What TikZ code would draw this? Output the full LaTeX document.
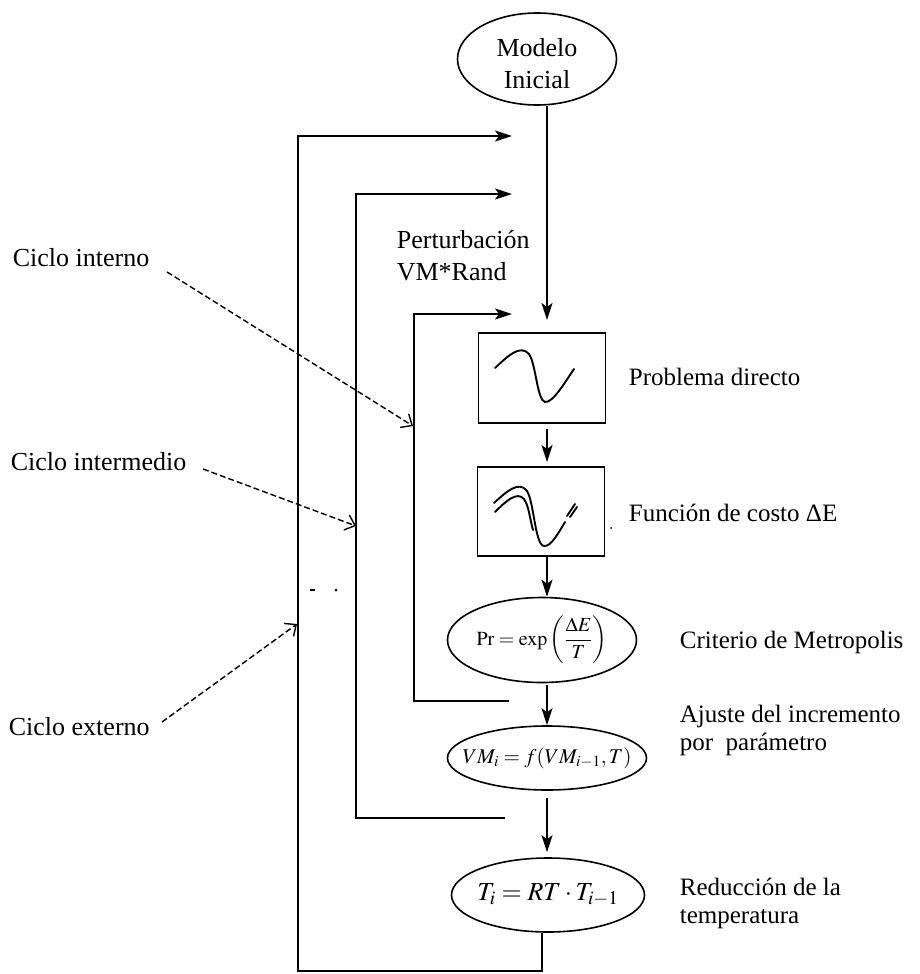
\documentclass[tikz,border=0pt]{standalone}
\usepackage{mathptmx}
\usepackage{fontspec}
\setmainfont{Liberation Serif}
\usetikzlibrary{arrows.meta,shapes.geometric}
\begin{document}
\begin{tikzpicture}[x=1pt,y=-1pt,
  line width=1.7pt,
  arr/.style={-{Stealth[length=17pt,width=11pt,inset=4pt]}},
  darr/.style={dash pattern=on 6pt off 3pt, line width=1.4pt, -{Straight Barb[length=9pt,width=16pt]}},
  ell/.style={draw, ellipse, inner sep=0pt, line width=1.6pt},
  boxnode/.style={draw, rectangle, inner sep=0pt, line width=1.9pt},
  curve/.style={line width=1.9pt, line cap=round},
  lbl/.style={font=\fontsize{26}{30}\selectfont, anchor=west, inner sep=0pt},
  rlbl/.style={font=\fontsize{25}{28}\selectfont, anchor=west, inner sep=0pt, align=left},
]
\useasboundingbox (0,0) rectangle (919,974);

% axis of the main chain
\coordinate (axis) at (547,0);

% nodes
\node[ell, minimum width=159pt, minimum height=92pt,
  label={[font=\fontsize{26}{32}\selectfont, align=center, yshift=-5pt]center:{Modelo\\Inicial}}] (modelo) at (537,59) {};
\node[boxnode, minimum width=127pt, minimum height=90pt] (box1) at (542,378) {};
\node[boxnode, minimum width=127pt, minimum height=89pt] (box2) at (541,511.5) {};
\node[ell, minimum width=189pt, minimum height=85pt,
  label={[font=\fontsize{20}{24}\selectfont]center:{$\mathrm{Pr}=\exp\left(\displaystyle\frac{\Delta E}{T}\right)$}}] (pr) at (542,640) {};
\node[ell, minimum width=199pt, minimum height=64pt,
  label={[font=\fontsize{21}{24}\selectfont]center:{$VM_{i}=f(VM_{i-1},T)$}}] (vm) at (547,758) {};
\node[ell, minimum width=193pt, minimum height=74pt,
  label={[font=\fontsize{26}{30}\selectfont]center:{$T_{i}=RT\cdot T_{i-1}$}}] (tt) at (548,895) {};

% curves inside boxes
\draw[curve] (495,368) .. controls (508,356) and (520,344) .. (529,354)
  .. controls (536,364) and (537,400) .. (545,402)
  .. controls (553,403) and (565,382) .. (574,369);
\draw[curve] (494,503) .. controls (506,492) and (519,480) .. (527,491)
  .. controls (534,502) and (535,545) .. (544,546)
  .. controls (551,547) and (559,532) .. (565,522);
\draw[curve] (495,512) .. controls (506,501) and (517,491) .. (524,499)
  .. controls (529,506) and (530,520) .. (533,530);
\draw[curve] (567,516) -- (575,504);
\draw[curve] (570,517) -- (577,507);
\fill (611,528) circle (1pt);

% labels right
\node[rlbl] (lprob) at (628,377) {Problema directo};
\node[rlbl] (lfunc) at (628,513) {Función de costo ΔE};
\node[rlbl] (lcrit) at (679,642) {Criterio de Metropolis};
\node[rlbl] (lajus) at (679,730) {Ajuste del incremento\\por\ \ parámetro};
\node[rlbl] (lredu) at (679,903) {Reducción de la\\temperatura};
\node[rlbl, font=\fontsize{26}{32}\selectfont] (lpert) at (396,256) {Perturbación\\VM*Rand};

% labels left
\node[lbl] (lint) at (12,258) {Ciclo interno};
\node[lbl] (lmed) at (10,462) {Ciclo intermedio};
\node[lbl] (lext) at (8,727) {Ciclo externo};

% main chain arrows
\coordinate (in1) at (547,320);
\draw[arr] (axis |- modelo.south) -- (in1);
\draw[arr, shorten <=5pt, shorten >=4pt] (axis |- box1.south) -- (axis |- box2.north);
\draw[arr] (axis |- box2.south) -- (axis |- pr.north);
\draw[arr, shorten <=2pt] (axis |- pr.south) -- (axis |- vm.north);
\draw[arr, shorten <=7pt, shorten >=5pt] (axis |- vm.south) -- (axis |- tt.north);

% loops
\coordinate (tb) at (542,971);
\coordinate (oB) at (298,971);
\coordinate (oT) at (298,136);
\coordinate (oE) at (512,136);
\draw[arr] (tb |- tt.south) -- (tb) -- (oB) -- (oT) -- (oE);

\coordinate (mS) at (505,818);
\coordinate (mB) at (356,818);
\coordinate (mT) at (356,194);
\coordinate (mE) at (512,194);
\draw[arr] (mS) -- (mB) -- (mT) -- (mE);

\coordinate (iS) at (509,701);
\coordinate (iB) at (414,701);
\coordinate (iT) at (414,314);
\coordinate (iE) at (512,314);
\draw[arr] (iS) -- (iB) -- (iT) -- (iE);

% dashed pointers
\coordinate (pint0) at (167,272);
\coordinate (pint1) at (413,426);
\coordinate (pmed0) at (203,469);
\coordinate (pmed1) at (356,526);
\coordinate (pext0) at (162,722);
\coordinate (pext1) at (297,624);
\draw[darr] (pint0) -- (pint1);
\draw[darr] (pmed0) -- (pmed1);
\draw[darr] (pext0) -- (pext1);

% dots
\draw[line width=1.5pt] (310,590) -- (315,590);
\fill (336,590) circle (1.5pt);
\end{tikzpicture}
\end{document}
